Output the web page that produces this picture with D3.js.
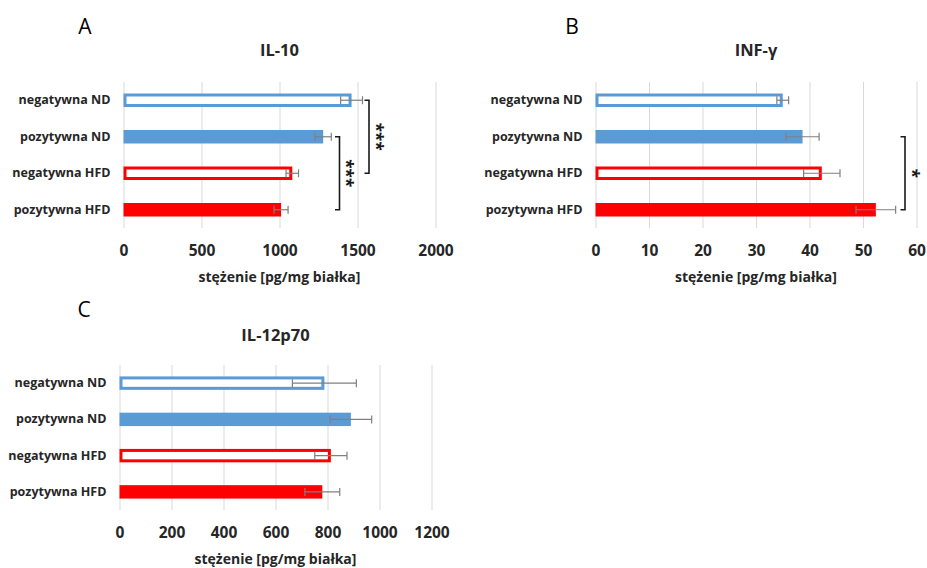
<!DOCTYPE html>
<html>
<head>
<meta charset="utf-8">
<script src="https://cdn.jsdelivr.net/npm/d3@7"></script>
<style>
body { margin: 0; background: #fff; }
text { font-family: "Open Sans", "DejaVu Sans", sans-serif; fill: #262626; }
.tick line { stroke: #d9d9d9; stroke-width: 1; }
</style>
</head>
<body>
<script>
// data
var categories = ["negatywna ND", "pozytywna ND", "negatywna HFD", "pozytywna HFD"];
var il10 = [1462, 1280, 1082, 1010];
var il10Err = [70, 52, 40, 45];
var inf = [35.0, 38.7, 42.3, 52.4];
var infErr = [1.1, 3.1, 3.4, 3.7];
var il12 = [788, 890, 813, 780];
var il12Err = [123, 80, 62, 67];
var ticksA = [0, 500, 1000, 1500, 2000];
var ticksB = [0, 10, 20, 30, 40, 50, 60];
var ticksC = [0, 200, 400, 600, 800, 1000, 1200];
var styles = ["openBlue", "fillBlue", "openRed", "fillRed"];
var xTitle = "stężenie [pg/mg białka]";

var width = 927, height = 568;
var blue = "#5b9bd5", red = "#ff0000";

var svg = d3.select("body").append("svg")
	.attr("width", width)
	.attr("height", height);

var panels = [
	{letter: "A", title: "IL-10", values: il10, errs: il10Err, ticks: ticksA,
		x0: 123.5, x1: 435.5, top: 82, bottom: 228, labelX: 85, letterY: 27, titleY: 50,
		brackets: [{from: 0, to: 2, x: 369, text: "***"}, {from: 1, to: 3, x: 339.5, text: "***"}]},
	{letter: "B", title: "INF-γ", values: inf, errs: infErr, ticks: ticksB,
		x0: 595.5, x1: 916.5, top: 82, bottom: 228, labelX: 572, letterY: 27, titleY: 50,
		brackets: [{from: 1, to: 3, x: 905, text: "*"}]},
	{letter: "C", title: "IL-12p70", values: il12, errs: il12Err, ticks: ticksC,
		x0: 119.5, x1: 431.5, top: 365, bottom: 510, labelX: 84, letterY: 310, titleY: 335,
		brackets: []}
];

panels.forEach(function(p) {
	var g = svg.append("g");

	var xScale = d3.scaleLinear()
		.domain([p.ticks[0], p.ticks[p.ticks.length - 1]])
		.range([p.x0, p.x1]);
	var yScale = d3.scaleBand()
		.domain(categories)
		.range([p.top, p.bottom])
		.paddingInner(0.63)
		.paddingOuter(0.315);

	// gridlines + tick labels
	var xAxis = d3.axisBottom(xScale)
		.tickValues(p.ticks)
		.tickSize(-(p.bottom - p.top))
		.tickPadding(17)
		.tickFormat(d3.format("d"));
	var ax = g.append("g")
		.attr("transform", "translate(0," + p.bottom + ")")
		.call(xAxis);
	ax.select(".domain").remove();
	ax.selectAll("text")
		.style("font-size", "15.5px")
		.style("font-weight", "bold")
		.style("fill", "#262626");

	var yAxis = d3.axisLeft(yScale).tickSize(0).tickPadding(13);
	var ay = g.append("g")
		.attr("transform", "translate(" + p.x0 + ",0)")
		.call(yAxis);
	ay.select(".domain").remove();
	ay.selectAll("text")
		.style("font-size", "12.5px")
		.style("font-weight", "bold")
		.style("fill", "#262626");

	// bars
	var bw = yScale.bandwidth();
	g.selectAll(".bar")
		.data(p.values)
		.enter()
		.append("rect")
		.attr("class", "bar")
		.attr("x", function(d, i) { return styles[i].indexOf("open") == 0 ? xScale(0) + 1.5 : xScale(0); })
		.attr("y", function(d, i) { return styles[i].indexOf("open") == 0 ? yScale(categories[i]) + 1.5 : yScale(categories[i]); })
		.attr("width", function(d, i) { return styles[i].indexOf("open") == 0 ? xScale(d) - xScale(0) - 3 : xScale(d) - xScale(0); })
		.attr("height", function(d, i) { return styles[i].indexOf("open") == 0 ? bw - 3 : bw; })
		.attr("fill", function(d, i) {
			if (styles[i] == "fillBlue") return blue;
			if (styles[i] == "fillRed") return red;
			return "#fff";
		})
		.attr("stroke", function(d, i) {
			if (styles[i] == "openBlue") return blue;
			if (styles[i] == "openRed") return red;
			return "none";
		})
		.attr("stroke-width", 3);

	// error bars
	var eb = g.selectAll(".err")
		.data(p.values)
		.enter()
		.append("g")
		.attr("class", "err")
		.attr("stroke", "#7f7f7f")
		.attr("stroke-width", 1.2);
	eb.append("line")
		.attr("x1", function(d, i) { return xScale(d - p.errs[i]); })
		.attr("x2", function(d, i) { return xScale(d + p.errs[i]); })
		.attr("y1", function(d, i) { return yScale(categories[i]) + bw / 2; })
		.attr("y2", function(d, i) { return yScale(categories[i]) + bw / 2; });
	[-1, 1].forEach(function(s) {
		eb.append("line")
			.attr("x1", function(d, i) { return xScale(d + s * p.errs[i]); })
			.attr("x2", function(d, i) { return xScale(d + s * p.errs[i]); })
			.attr("y1", function(d, i) { return yScale(categories[i]) + bw / 2 - 4; })
			.attr("y2", function(d, i) { return yScale(categories[i]) + bw / 2 + 4; });
	});

	// significance brackets
	p.brackets.forEach(function(b) {
		var yA = yScale(categories[b.from]) + bw / 2;
		var yB = yScale(categories[b.to]) + bw / 2;
		g.append("path")
			.attr("d", "M" + (b.x - 4.5) + "," + yA + "H" + b.x + "V" + yB + "H" + (b.x - 4.5))
			.attr("fill", "none")
			.attr("stroke", "#1a1a1a")
			.attr("stroke-width", 1.6);
		g.append("text")
			.attr("transform", "translate(" + (b.x + 0.5) + "," + ((yA + yB) / 2) + ") rotate(90)")
			.attr("text-anchor", "middle")
			.style("font-size", "17px")
			.style("font-weight", "bold")
			.style("fill", "#1a1a1a")
			.text(b.text);
	});

	// titles
	g.append("text")
		.attr("x", p.labelX)
		.attr("y", p.letterY)
		.attr("dy", "0.35em")
		.attr("text-anchor", "middle")
		.style("font-size", "21px")
		.style("fill", "#000")
		.text(p.letter);
	g.append("text")
		.attr("x", (p.x0 + p.x1) / 2)
		.attr("y", p.titleY)
		.attr("dy", "0.35em")
		.attr("text-anchor", "middle")
		.style("font-size", "16.5px")
		.style("font-weight", "bold")
		.text(p.title);
	g.append("text")
		.attr("x", (p.x0 + p.x1) / 2)
		.attr("y", p.bottom + 49)
		.attr("dy", "0.35em")
		.attr("text-anchor", "middle")
		.style("font-size", "14px")
		.style("font-weight", "bold")
		.text(xTitle);
});
</script>
</body>
</html>
